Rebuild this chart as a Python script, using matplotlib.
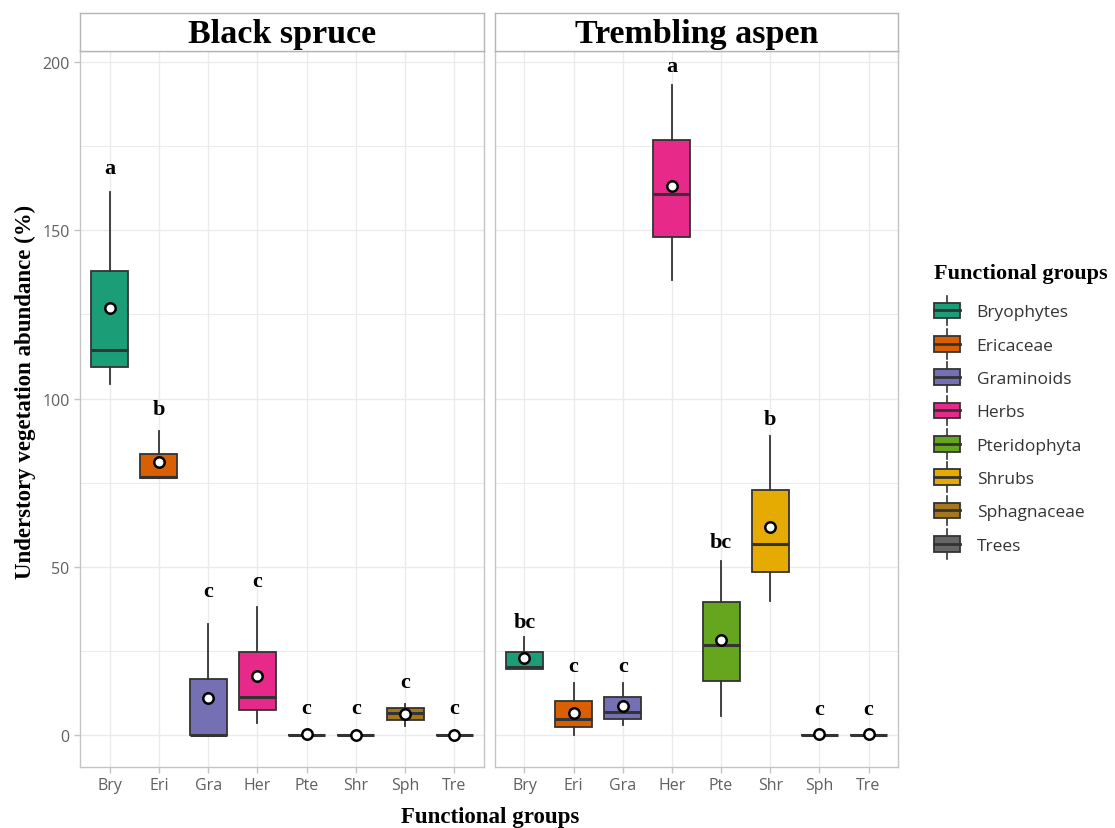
"""
Understory vegetation abundance by functional group, two stand types
(faceted boxplots, ggplot-like styling)
"""
import matplotlib
matplotlib.use('Agg')
import matplotlib.pyplot as plt
from matplotlib.patches import Patch, Rectangle
from matplotlib.lines import Line2D
from matplotlib.legend_handler import HandlerBase

# ── DATA ──────────────────────────────────────────────────────────────────────
stands = ['Black spruce', 'Trembling aspen']
groups = ['Bry', 'Eri', 'Gra', 'Her', 'Pte', 'Shr', 'Sph', 'Tre']
group_names = ['Bryophytes', 'Ericaceae', 'Graminoids', 'Herbs',
               'Pteridophyta', 'Shrubs', 'Sphagnaceae', 'Trees']
colors = ['#1B9E77', '#D95F02', '#7570B3', '#E7298A',
          '#66A61E', '#E6AB02', '#A6761D', '#666666']

# box statistics, one list per stand (order follows `groups`)
bs_whislo = [104.3, 76.3, 0.0, 3.6, 0.0, 0.0, 2.7, 0.0]
bs_q1     = [109.4, 76.3, 0.0, 7.4, 0.0, 0.0, 4.5, 0.0]
bs_med    = [114.4, 76.6, 0.0, 11.3, 0.0, 0.0, 6.5, 0.0]
bs_q3     = [137.9, 83.5, 16.6, 24.6, 0.0, 0.0, 8.0, 0.0]
bs_whishi = [161.4, 90.3, 33.0, 38.0, 0.0, 0.0, 9.2, 0.0]
bs_mean   = [126.9, 81.1, 11.0, 17.5, 0.3, 0.1, 6.3, 0.1]
bs_letters = ['a', 'b', 'c', 'c', 'c', 'c', 'c', 'c']
bs_letter_y = [167.0, 95.3, 41.3, 44.3, 6.5, 6.5, 14.3, 6.5]

ta_whislo = [19.6, 0.0, 3.0, 135.2, 5.6, 39.8, 0.0, 0.0]
ta_q1     = [19.6, 2.4, 4.8, 148.0, 16.0, 48.4, 0.0, 0.0]
ta_med    = [20.2, 4.8, 6.8, 160.8, 26.7, 56.8, 0.0, 0.0]
ta_q3     = [24.6, 10.1, 11.3, 176.8, 39.5, 72.8, 0.0, 0.0]
ta_whishi = [29.1, 15.5, 15.5, 193.2, 51.7, 88.9, 0.0, 0.0]
ta_mean   = [22.9, 6.5, 8.6, 163.2, 28.2, 61.8, 0.4, 0.2]
ta_letters = ['bc', 'c', 'c', 'a', 'bc', 'b', 'c', 'c']
ta_letter_y = [32.1, 19.0, 19.0, 197.3, 55.9, 92.4, 6.2, 6.2]

panels = [
    (bs_whislo, bs_q1, bs_med, bs_q3, bs_whishi, bs_mean, bs_letters, bs_letter_y),
    (ta_whislo, ta_q1, ta_med, ta_q3, ta_whishi, ta_mean, ta_letters, ta_letter_y),
]

# ── STYLE ─────────────────────────────────────────────────────────────────────
SERIF = 'Liberation Serif'
SANS = 'Open Sans'
EDGE = '#333333'
GRID = '#ebebeb'
BORDER = '#c4c4c4'
TICKTXT = '#606060'

W, H = 1115, 829
fig = plt.figure(figsize=(W / 100, H / 100), dpi=100)
fig.patch.set_facecolor('white')


def px_axes(x0, y0, x1, y1):
    """Axes placed by pixel box (top-left origin)"""
    return fig.add_axes([x0 / W, 1 - y1 / H, (x1 - x0) / W, (y1 - y0) / H])


panel_boxes = [(80, 52, 484, 768), (495, 52, 898, 768)]
strip_boxes = [(80, 14, 484, 52), (495, 14, 898, 52)]

for i, (stand, data) in enumerate(zip(stands, panels)):
    wlo, q1, med, q3, whi, mean, letters, letter_y = data
    ax = px_axes(*panel_boxes[i])
    pos = list(range(1, len(groups) + 1))

    stats = []
    for k in range(len(groups)):
        stats.append({'whislo': wlo[k], 'q1': q1[k], 'med': med[k],
                      'q3': q3[k], 'whishi': whi[k], 'mean': mean[k]})

    bp = ax.bxp(stats, positions=pos, widths=0.75, patch_artist=True,
                showmeans=True, showcaps=False, showfliers=False,
                boxprops=dict(edgecolor=EDGE, linewidth=1.3),
                medianprops=dict(color=EDGE, linewidth=2.2),
                whiskerprops=dict(color=EDGE, linewidth=1.3),
                meanprops=dict(marker='o', markerfacecolor='white',
                               markeredgecolor='black', markersize=7.5,
                               markeredgewidth=1.8))
    for patch, c in zip(bp['boxes'], colors):
        patch.set_facecolor(c)

    for k, (lab, ly) in enumerate(zip(letters, letter_y)):
        ax.text(pos[k], ly, lab, ha='center', va='baseline',
                fontsize=16, fontweight='bold', family=SERIF, color='black')

    ax.set_xlim(0.4, len(groups) + 0.6)
    ax.set_ylim(-9.5, 203.3)
    ax.set_xticks(pos)
    ax.set_xticklabels(groups)
    ax.set_yticks([0, 50, 100, 150, 200])
    ax.set_yticks([25, 75, 125, 175], minor=True)
    ax.grid(True, which='major', color=GRID, linewidth=1.0)
    ax.grid(True, which='minor', axis='y', color=GRID, linewidth=0.7)
    ax.set_axisbelow(True)
    for sp in ax.spines.values():
        sp.set_color(BORDER)
        sp.set_linewidth(1.0)
    ax.tick_params(axis='both', which='major', colors=BORDER, length=4,
                   width=1.0, labelcolor=TICKTXT, labelsize=11.5)
    ax.tick_params(axis='y', which='minor', length=0)
    for lbl in ax.get_xticklabels() + ax.get_yticklabels():
        lbl.set_family(SANS)
    if i == 1:
        ax.tick_params(axis='y', which='both', left=False, labelleft=False)

    # facet strip
    st = px_axes(*strip_boxes[i])
    st.set_xticks([])
    st.set_yticks([])
    st.set_facecolor('white')
    for sp in st.spines.values():
        sp.set_color('#b5b5b5')
        sp.set_linewidth(1.0)
    st.text(0.5, 0.45, stand, ha='center', va='center', transform=st.transAxes,
            fontsize=24.5, fontweight='bold', family=SERIF)

# axis titles
fig.text(25 / W, 1 - 392 / H, 'Understory vegetation abundance (%)', rotation=90,
         ha='center', va='center', fontsize=16.5, fontweight='bold', family=SERIF)
fig.text(490 / W, 1 - 818 / H, 'Functional groups', ha='center', va='center',
         fontsize=16.5, fontweight='bold', family=SERIF)


# ── LEGEND ────────────────────────────────────────────────────────────────────
class BoxKey(HandlerBase):
    """Legend key drawn like a small boxplot"""
    def create_artists(self, legend, orig_handle, xdescent, ydescent,
                       width, height, fontsize, trans):
        x0, y0 = -xdescent, -ydescent
        cx = x0 + width / 2
        ext = 0.45 * height
        wu = Line2D([cx, cx], [y0 + height, y0 + height + ext],
                    color=EDGE, lw=1.2, transform=trans)
        wl = Line2D([cx, cx], [y0 - ext, y0], color=EDGE, lw=1.2, transform=trans)
        box = Rectangle((x0, y0), width, height,
                        facecolor=orig_handle.get_facecolor(),
                        edgecolor=EDGE, lw=1.3, transform=trans)
        med = Line2D([x0, x0 + width], [y0 + height / 2] * 2,
                     color=EDGE, lw=2.0, transform=trans)
        return [wu, wl, box, med]


handles = [Patch(facecolor=c) for c in colors]
leg = fig.legend(handles, group_names, handler_map={Patch: BoxKey()},
                 loc='upper left', bbox_to_anchor=(929 / W, 1 - 259 / H),
                 frameon=False, title='Functional groups', alignment='left',
                 prop={'family': SANS, 'size': 12.5},
                 title_fontproperties={'family': SERIF, 'weight': 'bold', 'size': 16},
                 handlelength=1.5, handleheight=1.0, labelspacing=0.9,
                 handletextpad=0.95, borderaxespad=0, borderpad=0.3)
leg._legend_box.sep = 14  # a bit more room under the title, as in ggplot
for t in leg.get_texts():
    t.set_color('#333333')

fig.savefig('out.png', dpi=100, facecolor='white')
